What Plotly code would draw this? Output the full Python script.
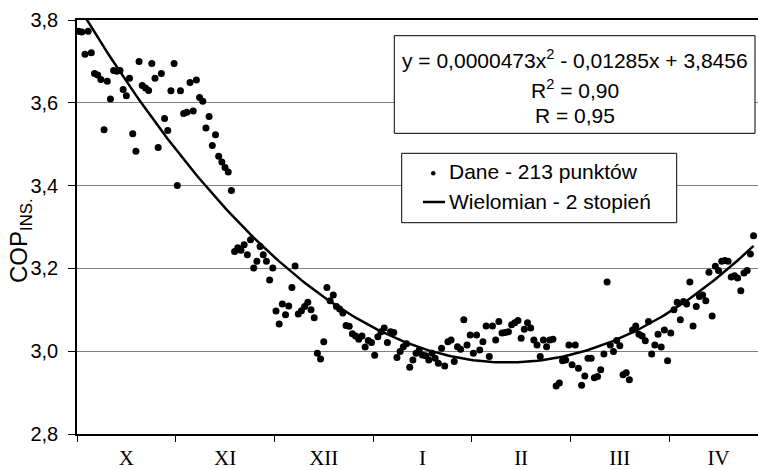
import numpy as np
import plotly.graph_objects as go

# ---- data -------------------------------------------------------------
cop_values = [
    3.773, 3.771, 3.717, 3.773, 3.721, 3.671, 3.667, 3.656, 3.535, 3.652,
    3.609, 3.678, 3.676, 3.678, 3.632, 3.617, 3.659, 3.525, 3.483, 3.700,
    3.642, 3.636, 3.630, 3.695, 3.659, 3.492, 3.671, 3.562, 3.533, 3.629,
    3.695, 3.400, 3.629, 3.574, 3.577, 3.649, 3.580, 3.655, 3.613, 3.604,
    3.539, 3.567, 3.497, 3.523, 3.471, 3.457, 3.444, 3.433, 3.388,
    3.241, 3.250, 3.244, 3.257, 3.233, 3.269, 3.201, 3.217, 3.253, 3.233,
    3.217, 3.172, 3.201, 3.097, 3.066, 3.114, 3.088, 3.109, 3.154, 3.206,
    3.090, 3.098, 3.108, 3.118, 3.100, 3.081, 2.995, 2.981, 3.023, 3.154,
    3.122, 3.136, 3.108, 3.102, 3.092, 3.062, 3.060, 3.042, 3.037, 3.029,
    3.037, 3.010, 3.026, 3.021, 2.990, 3.035, 3.047, 3.056, 3.021, 3.047,
    3.045, 2.985, 2.999, 3.011, 3.018, 2.961, 2.979, 2.995, 3.003, 2.991,
    2.989, 2.979, 2.995, 2.983, 2.971, 3.007, 2.964, 3.023, 3.027, 2.975,
    3.011, 3.005, 3.076, 3.015, 3.039, 2.995, 3.039, 3.003, 3.023, 3.061,
    2.987, 3.061, 3.027, 3.072, 3.044, 3.045, 3.047, 3.064, 3.069, 3.074,
    3.031, 3.053, 3.069, 3.056, 3.027, 3.015, 2.987, 3.027, 3.011, 3.027,
    3.029, 2.916, 2.923, 2.977, 2.979, 3.015, 2.967, 3.015, 2.959, 2.918,
    2.940, 2.983, 2.983, 2.936, 2.939, 2.955, 2.993, 3.167, 3.015, 2.999,
    3.026, 3.013, 2.943, 2.948, 2.931, 3.051, 3.061, 3.041, 3.037, 3.025,
    3.072, 2.993, 3.015, 3.041, 3.010, 3.051, 2.977, 3.044, 3.100, 3.118,
    3.076, 3.120, 3.114, 3.167, 3.061, 3.108, 3.132, 3.136, 3.122, 3.191,
    3.085, 3.205, 3.195, 3.217, 3.219, 3.217, 3.179, 3.182, 3.177, 3.146,
    3.189, 3.195, 3.235, 3.279,
]
days = list(range(1, len(cop_values) + 1))          # kolejne dni 1..213

month_labels = ["X", "XI", "XII", "I", "II", "III", "IV"]
group_size = 31                                        # category ticks every 31 points

trend_coef = [0.0000473, -0.01285, 3.8456]             # y = a x^2 + b x + c
equation_lines = ["y = 0,0000473x<sup>2</sup> - 0,01285x + 3,8456",
                  "R<sup>2</sup> = 0,90",
                  "R = 0,95"]
legend_names = ["Dane - 213 punktów", "Wielomian - 2 stopień"]

y_ticks = [2.8, 3.0, 3.2, 3.4, 3.6, 3.8]

# ---- geometry helpers (pixels -> paper) ------------------------------
W, H = 758, 470
ML, MR, MT, MB = 77, 0, 20, 36
PW, PH = W - ML - MR, H - MT - MB


def px(x):
    return (x - ML) / PW


def py(y):
    return (H - MB - y) / PH


# ---- derived ----------------------------------------------------------
boundaries = [0.5 + group_size * k for k in range(len(month_labels) + 1)]
label_pos = [(boundaries[k] + boundaries[k + 1]) / 2 for k in range(len(month_labels))]
trend_y = np.polyval(trend_coef, np.array(days, dtype=float))

fig = go.Figure()
fig.add_trace(go.Scatter(
    x=days, y=cop_values, mode="markers",
    marker=dict(color="black", size=7),
    name=legend_names[0], showlegend=False,
))
fig.add_trace(go.Scatter(
    x=days, y=trend_y, mode="lines",
    line=dict(color="black", width=2.5),
    name=legend_names[1], showlegend=False,
))

fig.update_layout(
    width=W, height=H,
    margin=dict(l=ML, r=MR, t=MT, b=MB, autoexpand=False),
    plot_bgcolor="white", paper_bgcolor="white",
    separators=", ",
    font=dict(family="Liberation Sans, Arial, sans-serif", color="black"),
    showlegend=False,
)

fig.update_xaxes(
    range=[0.5, 214.4], automargin=False,
    tickmode="array", tickvals=label_pos, ticktext=month_labels,
    ticks="", ticklabelstandoff=4,
    tickfont=dict(family="Liberation Serif, Times New Roman, serif", size=21),
    showgrid=False, zeroline=False,
    showline=True, linecolor="black", linewidth=1.5, mirror=True,
    minor=dict(tickmode="array", tickvals=boundaries, ticks="outside",
               ticklen=6, tickcolor="black", tickwidth=1, showgrid=False),
)
fig.update_yaxes(
    range=[2.8, 3.8], automargin=False,
    tickmode="array", tickvals=y_ticks, tickformat=".1f",
    ticks="outside", ticklen=7, tickcolor="black",
    tickfont=dict(size=20), ticklabelstandoff=6,
    showgrid=True, gridcolor="#808080", gridwidth=1,
    zeroline=False,
    showline=True, linecolor="black", linewidth=1.5,
)

# y-axis title
fig.add_annotation(
    text="COP<sub>INS.</sub>", textangle=-90,
    xref="paper", yref="paper", x=px(21), y=py(241),
    xanchor="center", yanchor="middle", showarrow=False,
    font=dict(size=24),
)

# equation box
fig.add_shape(type="rect", xref="paper", yref="paper",
              x0=px(394.3), x1=px(755), y0=py(133.3), y1=py(35.7),
              line=dict(color="black", width=1), fillcolor="white", layer="above")
for txt, yc in zip(equation_lines, [59, 89, 115]):
    fig.add_annotation(
        text=txt, xref="paper", yref="paper", x=px(574.5), y=py(yc),
        xanchor="center", yanchor="middle", showarrow=False,
        font=dict(size=21),
    )

# legend box (drawn to match the reference layout)
fig.add_shape(type="rect", xref="paper", yref="paper",
              x0=px(401.7), x1=px(676.7), y0=py(222.7), y1=py(153.3),
              line=dict(color="black", width=1), fillcolor="white", layer="above")
fig.add_shape(type="circle", xref="paper", yref="paper",
              x0=px(431), x1=px(435.5), y0=py(175.5), y1=py(171),
              line=dict(color="black", width=0), fillcolor="black", layer="above")
fig.add_shape(type="line", xref="paper", yref="paper",
              x0=px(423), x1=px(445), y0=py(202), y1=py(202),
              line=dict(color="black", width=2.5), layer="above")
for txt, yc in zip(legend_names, [172, 202]):
    fig.add_annotation(
        text=txt, xref="paper", yref="paper", x=px(447), y=py(yc),
        xanchor="left", yanchor="middle", showarrow=False,
        font=dict(size=21),
    )

fig.write_html("out.html", config={"displayModeBar": False},
               post_script="document.body.style.margin='0';")
